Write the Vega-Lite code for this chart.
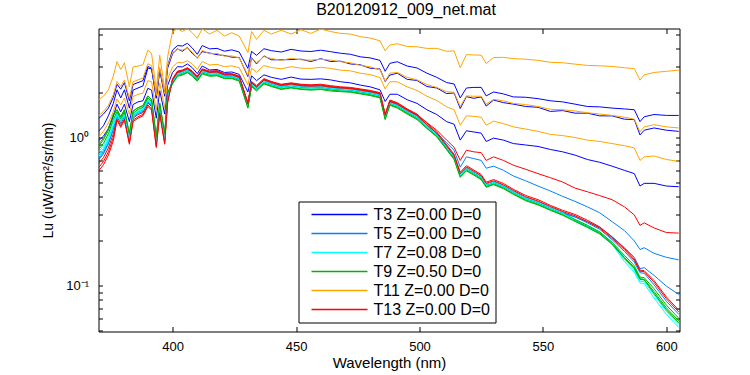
{
  "$schema": "https://vega.github.io/schema/vega-lite/v6.json",
  "width": 581,
  "height": 303,
  "autosize": {"type": "none"},
  "padding": {"left": 98.5, "top": 28.5, "right": 70.5, "bottom": 43.5},
  "background": "white",
  "title": {"text": "B20120912_009_net.mat", "fontSize": 16, "font": "Liberation Sans", "fontWeight": "normal", "color": "black", "offset": 10, "frame": "group", "dx": 17},
  "datasets": {
    "series": [
      {"s": "a", "t": "T3 Z=0.00 D=0"}, {"s": "b", "t": "T5 Z=0.00 D=0"}, {"s": "c", "t": "T7 Z=0.08 D=0"},
      {"s": "d", "t": "T9 Z=0.50 D=0"}, {"s": "e", "t": "T11 Z=0.00 D=0"}, {"s": "f", "t": "T13 Z=0.00 D=0"},
      {"s": "g", "t": "T3 Z=0.00 D=0"}, {"s": "h", "t": "T5 Z=0.00 D=0"}, {"s": "i", "t": "T7 Z=0.08 D=0"},
      {"s": "j", "t": "T9 Z=0.50 D=0"}, {"s": "k", "t": "T11 Z=0.00 D=0"}, {"s": "l", "t": "T13 Z=0.00 D=0"},
      {"s": "m", "t": "T3 Z=0.00 D=0"}, {"s": "n", "t": "T5 Z=0.00 D=0"}, {"s": "o", "t": "T7 Z=0.08 D=0"},
      {"s": "p", "t": "T9 Z=0.50 D=0"}, {"s": "q", "t": "T11 Z=0.00 D=0"}, {"s": "r", "t": "T13 Z=0.00 D=0"}
    ],
    "spec": [
      {"w":370,"a":1.1,"b":0.741,"c":0.796,"d":0.874,"e":1.8,"f":0.663,"g":1.34,"h":0.702,"i":0.764,"j":0.827,"k":1.4,"l":0.593,"m":0.95,"n":0.718,"o":0.741,"p":0.897,"q":1.0,"r":0.624},
      {"w":372,"a":1.2,"b":0.817,"c":0.877,"d":0.963,"e":1.9,"f":0.731,"g":1.44,"h":0.774,"i":0.843,"j":0.912,"k":1.5,"l":0.654,"m":1.02,"n":0.791,"o":0.817,"p":0.989,"q":1.1,"r":0.688},
      {"w":374,"a":1.4,"b":0.95,"c":1.02,"d":1.12,"e":2.1,"f":0.85,"g":1.58,"h":0.9,"i":0.98,"j":1.06,"k":1.65,"l":0.76,"m":1.15,"n":0.92,"o":0.95,"p":1.15,"q":1.25,"r":0.8},
      {"w":376,"a":1.7,"b":1.19,"c":1.28,"d":1.4,"e":2.6,"f":1.06,"g":1.87,"h":1.13,"i":1.23,"j":1.33,"k":1.95,"l":0.95,"m":1.4,"n":1.15,"o":1.19,"p":1.44,"q":1.5,"r":1.0},
      {"w":377.5,"a":2.1,"b":1.44,"c":1.48,"d":1.54,"e":3.26,"f":1.38,"g":2.29,"h":1.41,"i":1.45,"j":1.49,"k":2.39,"l":1.31,"m":1.68,"n":1.41,"o":1.42,"p":1.54,"q":1.82,"r":1.33},
      {"w":379,"a":1.85,"b":1.29,"c":1.33,"d":1.38,"e":2.88,"f":1.24,"g":2.12,"h":1.26,"i":1.3,"j":1.34,"k":2.21,"l":1.17,"m":1.49,"n":1.26,"o":1.27,"p":1.38,"q":1.66,"r":1.2},
      {"w":380.5,"a":2.1,"b":1.44,"c":1.48,"d":1.54,"e":3.2,"f":1.38,"g":2.35,"h":1.41,"i":1.45,"j":1.49,"k":2.45,"l":1.31,"m":1.68,"n":1.41,"o":1.42,"p":1.54,"q":1.85,"r":1.33},
      {"w":382.5,"a":1.58,"b":0.99,"c":1.02,"d":1.06,"e":2.2,"f":0.95,"g":1.77,"h":0.97,"i":1.0,"j":1.03,"k":1.84,"l":0.9,"m":1.28,"n":0.97,"o":0.98,"p":1.06,"q":1.43,"r":0.92},
      {"w":384,"a":2.09,"b":1.41,"c":1.45,"d":1.51,"e":3.0,"f":1.35,"g":2.28,"h":1.38,"i":1.42,"j":1.46,"k":2.38,"l":1.28,"m":1.67,"n":1.38,"o":1.39,"p":1.51,"q":1.89,"r":1.31},
      {"w":386,"a":2.16,"b":1.49,"c":1.53,"d":1.59,"e":3.04,"f":1.43,"g":2.35,"h":1.46,"i":1.5,"j":1.55,"k":2.45,"l":1.35,"m":1.74,"n":1.46,"o":1.47,"p":1.59,"q":1.96,"r":1.38},
      {"w":388,"a":2.23,"b":1.53,"c":1.58,"d":1.64,"e":3.1,"f":1.47,"g":2.42,"h":1.5,"i":1.55,"j":1.6,"k":2.52,"l":1.4,"m":1.77,"n":1.5,"o":1.52,"p":1.64,"q":1.99,"r":1.43},
      {"w":390,"a":2.94,"b":1.78,"c":1.84,"d":1.91,"e":3.89,"f":1.71,"g":3.02,"h":1.75,"i":1.8,"j":1.85,"k":3.15,"l":1.62,"m":2.15,"n":1.75,"o":1.76,"p":1.91,"q":2.42,"r":1.66},
      {"w":391.5,"a":2.91,"b":1.68,"c":1.73,"d":1.8,"e":3.69,"f":1.62,"g":2.94,"h":1.65,"i":1.7,"j":1.75,"k":3.06,"l":1.53,"m":2.09,"n":1.65,"o":1.67,"p":1.8,"q":2.38,"r":1.56},
      {"w":393.4,"a":1.86,"b":0.94,"c":0.969,"d":1.01,"e":2.1,"f":0.903,"g":1.84,"h":0.922,"i":0.95,"j":0.979,"k":1.92,"l":0.855,"m":1.35,"n":0.922,"o":0.931,"p":1.01,"q":1.53,"r":0.874},
      {"w":394.8,"a":2.88,"b":1.58,"c":1.63,"d":1.7,"e":3.6,"f":1.52,"g":2.85,"h":1.55,"i":1.6,"j":1.65,"k":2.97,"l":1.44,"m":2.07,"n":1.55,"o":1.57,"p":1.7,"q":2.34,"r":1.47},
      {"w":396.8,"a":1.98,"b":0.99,"c":1.02,"d":1.06,"e":2.09,"f":0.95,"g":1.9,"h":0.97,"i":1.0,"j":1.03,"k":1.98,"l":0.9,"m":1.44,"n":0.97,"o":0.98,"p":1.06,"q":1.59,"r":0.92},
      {"w":398,"a":3.06,"b":1.88,"c":1.94,"d":2.01,"e":3.51,"f":1.81,"g":2.94,"h":1.84,"i":1.9,"j":1.96,"k":3.06,"l":1.71,"m":2.25,"n":1.84,"o":1.86,"p":2.01,"q":2.48,"r":1.75},
      {"w":400,"a":3.9,"b":2.45,"c":2.42,"d":2.38,"e":5.2,"f":2.47,"g":3.68,"h":2.4,"i":2.35,"j":2.33,"k":3.75,"l":2.5,"m":2.75,"n":2.4,"o":2.4,"p":2.3,"q":3.0,"r":2.45},
      {"w":402,"a":4.18,"b":2.75,"c":2.73,"d":2.67,"e":5.42,"f":2.78,"g":3.97,"h":2.7,"i":2.65,"j":2.62,"k":3.93,"l":2.81,"m":3.01,"n":2.7,"o":2.7,"p":2.59,"q":3.21,"r":2.75},
      {"w":404,"a":4.15,"b":2.81,"c":2.78,"d":2.72,"e":5.2,"f":2.83,"g":3.82,"h":2.75,"i":2.7,"j":2.67,"k":3.9,"l":2.86,"m":3.0,"n":2.75,"o":2.75,"p":2.64,"q":3.2,"r":2.81},
      {"w":406,"a":4.33,"b":2.91,"c":2.88,"d":2.82,"e":5.45,"f":2.94,"g":4.06,"h":2.85,"i":2.79,"j":2.76,"k":4.02,"l":2.96,"m":3.14,"n":2.85,"o":2.85,"p":2.74,"q":3.3,"r":2.91},
      {"w":408,"a":4.02,"b":2.75,"c":2.73,"d":2.67,"e":5.1,"f":2.78,"g":3.69,"h":2.7,"i":2.65,"j":2.62,"k":3.77,"l":2.81,"m":2.96,"n":2.7,"o":2.7,"p":2.59,"q":3.14,"r":2.75},
      {"w":410,"a":3.65,"b":2.55,"c":2.53,"d":2.48,"e":4.68,"f":2.58,"g":3.45,"h":2.5,"i":2.45,"j":2.43,"k":3.42,"l":2.6,"m":2.7,"n":2.5,"o":2.5,"p":2.4,"q":2.88,"r":2.55},
      {"w":412,"a":4.18,"b":2.86,"c":2.83,"d":2.77,"e":5.42,"f":2.88,"g":3.8,"h":2.8,"i":2.74,"j":2.72,"k":3.88,"l":2.91,"m":3.04,"n":2.8,"o":2.8,"p":2.69,"q":3.26,"r":2.86},
      {"w":415,"a":3.97,"b":2.75,"c":2.73,"d":2.67,"e":5.0,"f":2.78,"g":3.72,"h":2.7,"i":2.65,"j":2.62,"k":3.68,"l":2.81,"m":2.86,"n":2.7,"o":2.7,"p":2.59,"q":3.09,"r":2.75},
      {"w":418,"a":4.0,"b":2.77,"c":2.75,"d":2.69,"e":5.3,"f":2.8,"g":3.63,"h":2.72,"i":2.67,"j":2.64,"k":3.7,"l":2.83,"m":2.88,"n":2.72,"o":2.72,"p":2.61,"q":3.12,"r":2.77},
      {"w":421,"a":3.83,"b":2.65,"c":2.63,"d":2.57,"e":4.85,"f":2.68,"g":3.58,"h":2.6,"i":2.55,"j":2.52,"k":3.54,"l":2.7,"m":2.75,"n":2.6,"o":2.6,"p":2.5,"q":3.01,"r":2.65},
      {"w":424,"a":3.91,"b":2.65,"c":2.63,"d":2.57,"e":5.1,"f":2.68,"g":3.49,"h":2.6,"i":2.55,"j":2.52,"k":3.56,"l":2.7,"m":2.77,"n":2.6,"o":2.6,"p":2.5,"q":3.05,"r":2.65},
      {"w":427,"a":3.78,"b":2.55,"c":2.53,"d":2.48,"e":4.85,"f":2.58,"g":3.47,"h":2.5,"i":2.45,"j":2.43,"k":3.44,"l":2.6,"m":2.67,"n":2.5,"o":2.5,"p":2.4,"q":2.96,"r":2.55},
      {"w":430.5,"a":2.93,"b":1.68,"c":1.67,"d":1.63,"e":3.75,"f":1.7,"g":2.58,"h":1.65,"i":1.62,"j":1.6,"k":2.63,"l":1.72,"m":2.03,"n":1.65,"o":1.65,"p":1.58,"q":2.27,"r":1.68},
      {"w":432,"a":3.82,"b":2.35,"c":2.32,"d":2.28,"e":5.2,"f":2.37,"g":3.46,"h":2.3,"i":2.25,"j":2.23,"k":3.43,"l":2.39,"m":2.61,"n":2.3,"o":2.3,"p":2.21,"q":2.94,"r":2.35},
      {"w":434,"a":3.59,"b":2.19,"c":2.17,"d":2.13,"e":4.6,"f":2.21,"g":3.14,"h":2.15,"i":2.11,"j":2.09,"k":3.2,"l":2.24,"m":2.42,"n":2.15,"o":2.15,"p":2.06,"q":2.76,"r":2.19},
      {"w":437,"a":3.98,"b":2.45,"c":2.42,"d":2.38,"e":5.3,"f":2.47,"g":3.56,"h":2.4,"i":2.35,"j":2.33,"k":3.52,"l":2.5,"m":2.65,"n":2.4,"o":2.4,"p":2.3,"q":3.06,"r":2.45},
      {"w":440,"a":3.86,"b":2.35,"c":2.32,"d":2.28,"e":5.0,"f":2.37,"g":3.35,"h":2.3,"i":2.25,"j":2.23,"k":3.42,"l":2.39,"m":2.55,"n":2.3,"o":2.3,"p":2.21,"q":2.97,"r":2.35},
      {"w":444,"a":3.78,"b":2.24,"c":2.22,"d":2.18,"e":5.3,"f":2.27,"g":3.35,"h":2.2,"i":2.16,"j":2.13,"k":3.32,"l":2.29,"m":2.47,"n":2.2,"o":2.2,"p":2.11,"q":2.91,"r":2.24},
      {"w":448,"a":3.94,"b":2.3,"c":2.27,"d":2.23,"e":5.0,"f":2.32,"g":3.36,"h":2.25,"i":2.21,"j":2.18,"k":3.43,"l":2.34,"m":2.56,"n":2.25,"o":2.25,"p":2.16,"q":3.01,"r":2.3},
      {"w":452,"a":3.84,"b":2.24,"c":2.22,"d":2.18,"e":5.35,"f":2.27,"g":3.38,"h":2.2,"i":2.16,"j":2.13,"k":3.35,"l":2.29,"m":2.48,"n":2.2,"o":2.2,"p":2.11,"q":2.94,"r":2.24},
      {"w":456,"a":3.81,"b":2.22,"c":2.2,"d":2.16,"e":5.05,"f":2.25,"g":3.26,"h":2.18,"i":2.14,"j":2.11,"k":3.33,"l":2.27,"m":2.47,"n":2.18,"o":2.18,"p":2.09,"q":2.93,"r":2.22},
      {"w":460,"a":3.89,"b":2.24,"c":2.22,"d":2.18,"e":5.4,"f":2.27,"g":3.41,"h":2.2,"i":2.16,"j":2.13,"k":3.38,"l":2.29,"m":2.49,"n":2.2,"o":2.2,"p":2.11,"q":2.98,"r":2.24},
      {"w":464,"a":3.8,"b":2.19,"c":2.17,"d":2.13,"e":5.2,"f":2.21,"g":3.26,"h":2.15,"i":2.11,"j":2.09,"k":3.33,"l":2.24,"m":2.45,"n":2.15,"o":2.15,"p":2.06,"q":2.93,"r":2.19},
      {"w":468,"a":3.71,"b":2.16,"c":2.14,"d":2.1,"e":5.05,"f":2.18,"g":3.28,"h":2.12,"i":2.08,"j":2.06,"k":3.25,"l":2.2,"m":2.38,"n":2.12,"o":2.12,"p":2.04,"q":2.85,"r":2.16},
      {"w":472,"a":3.65,"b":2.14,"c":2.12,"d":2.08,"e":5.0,"f":2.16,"g":3.14,"h":2.1,"i":2.06,"j":2.04,"k":3.2,"l":2.18,"m":2.34,"n":2.1,"o":2.1,"p":2.02,"q":2.82,"r":2.14},
      {"w":476,"a":3.51,"b":2.09,"c":2.07,"d":2.03,"e":4.8,"f":2.11,"g":3.1,"h":2.05,"i":2.01,"j":1.99,"k":3.07,"l":2.13,"m":2.26,"n":2.05,"o":2.05,"p":1.97,"q":2.72,"r":2.09},
      {"w":480,"a":3.45,"b":2.04,"c":2.02,"d":1.98,"e":4.7,"f":2.06,"g":2.94,"h":2.0,"i":1.96,"j":1.94,"k":3.0,"l":2.08,"m":2.2,"n":2.0,"o":2.0,"p":1.92,"q":2.66,"r":2.04},
      {"w":484,"a":3.32,"b":1.97,"c":1.95,"d":1.91,"e":4.5,"f":1.99,"g":2.9,"h":1.93,"i":1.89,"j":1.87,"k":2.87,"l":2.01,"m":2.1,"n":1.93,"o":1.93,"p":1.85,"q":2.54,"r":1.97},
      {"w":486.1,"a":2.8,"b":1.41,"c":1.39,"d":1.37,"e":3.85,"f":1.42,"g":2.39,"h":1.38,"i":1.35,"j":1.34,"k":2.41,"l":1.44,"m":1.75,"n":1.38,"o":1.38,"p":1.32,"q":2.13,"r":1.41},
      {"w":488,"a":3.17,"b":1.75,"c":1.74,"d":1.7,"e":4.22,"f":1.77,"g":2.64,"h":1.72,"i":1.69,"j":1.67,"k":2.72,"l":1.79,"m":1.96,"n":1.72,"o":1.72,"p":1.65,"q":2.38,"r":1.75},
      {"w":491,"a":3.25,"b":1.68,"c":1.67,"d":1.63,"e":4.3,"f":1.7,"g":2.72,"h":1.65,"i":1.62,"j":1.6,"k":2.75,"l":1.72,"m":1.96,"n":1.65,"o":1.65,"p":1.58,"q":2.38,"r":1.68},
      {"w":495,"a":3.04,"b":1.53,"c":1.52,"d":1.49,"e":4.12,"f":1.55,"g":2.47,"h":1.5,"i":1.47,"j":1.46,"k":2.55,"l":1.56,"m":1.8,"n":1.5,"o":1.5,"p":1.44,"q":2.2,"r":1.53},
      {"w":499,"a":2.95,"b":1.41,"c":1.39,"d":1.37,"e":4.1,"f":1.42,"g":2.43,"h":1.38,"i":1.35,"j":1.34,"k":2.45,"l":1.44,"m":1.7,"n":1.38,"o":1.38,"p":1.32,"q":2.08,"r":1.41},
      {"w":503,"a":2.72,"b":1.22,"c":1.21,"d":1.19,"e":4.0,"f":1.26,"g":2.21,"h":1.2,"i":1.18,"j":1.16,"k":2.28,"l":1.25,"m":1.54,"n":1.2,"o":1.2,"p":1.15,"q":1.9,"r":1.22},
      {"w":507,"a":2.55,"b":1.07,"c":1.06,"d":1.04,"e":4.0,"f":1.12,"g":2.16,"h":1.05,"i":1.03,"j":1.02,"k":2.18,"l":1.09,"m":1.43,"n":1.05,"o":1.05,"p":1.01,"q":1.78,"r":1.07},
      {"w":511,"a":2.35,"b":0.92,"c":0.869,"d":0.851,"e":3.82,"f":0.96,"g":1.98,"h":0.86,"i":0.843,"j":0.834,"k":2.04,"l":0.894,"m":1.28,"n":0.86,"o":0.86,"p":0.826,"q":1.61,"r":0.877},
      {"w":514,"a":2.3,"b":0.82,"c":0.747,"d":0.733,"e":3.85,"f":0.86,"g":2.0,"h":0.74,"i":0.725,"j":0.718,"k":2.02,"l":0.77,"m":1.23,"n":0.74,"o":0.74,"p":0.71,"q":1.54,"r":0.755},
      {"w":516.5,"a":1.85,"b":0.63,"c":0.566,"d":0.554,"e":2.96,"f":0.7,"g":1.57,"h":0.56,"i":0.549,"j":0.543,"k":1.62,"l":0.582,"m":0.96,"n":0.56,"o":0.56,"p":0.538,"q":1.21,"r":0.571},
      {"w":519,"a":2.16,"b":0.74,"c":0.626,"d":0.614,"e":3.63,"f":0.82,"g":1.89,"h":0.62,"i":0.608,"j":0.601,"k":1.91,"l":0.645,"m":1.11,"n":0.62,"o":0.62,"p":0.595,"q":1.4,"r":0.632},
      {"w":522,"a":2.18,"b":0.72,"c":0.586,"d":0.574,"e":3.61,"f":0.8,"g":1.84,"h":0.58,"i":0.568,"j":0.563,"k":1.9,"l":0.603,"m":1.09,"n":0.58,"o":0.58,"p":0.557,"q":1.39,"r":0.592},
      {"w":525,"a":2.18,"b":0.7,"c":0.545,"d":0.535,"e":3.6,"f":0.79,"g":1.88,"h":0.54,"i":0.529,"j":0.524,"k":1.9,"l":0.562,"m":1.07,"n":0.54,"o":0.54,"p":0.518,"q":1.37,"r":0.551},
      {"w":527,"a":1.91,"b":0.62,"c":0.485,"d":0.475,"e":3.16,"f":0.7,"g":1.63,"h":0.48,"i":0.47,"j":0.466,"k":1.68,"l":0.499,"m":0.94,"n":0.48,"o":0.48,"p":0.461,"q":1.21,"r":0.49},
      {"w":530,"a":2.03,"b":0.64,"c":0.505,"d":0.495,"e":3.47,"f":0.74,"g":1.79,"h":0.5,"i":0.49,"j":0.485,"k":1.81,"l":0.52,"m":0.99,"n":0.5,"o":0.5,"p":0.48,"q":1.29,"r":0.51},
      {"w":534,"a":1.97,"b":0.6,"c":0.475,"d":0.465,"e":3.48,"f":0.7,"g":1.72,"h":0.47,"i":0.461,"j":0.456,"k":1.77,"l":0.489,"m":0.96,"n":0.47,"o":0.47,"p":0.451,"q":1.24,"r":0.479},
      {"w":538,"a":1.88,"b":0.55,"c":0.434,"d":0.426,"e":3.41,"f":0.65,"g":1.68,"h":0.43,"i":0.421,"j":0.417,"k":1.7,"l":0.447,"m":0.91,"n":0.43,"o":0.43,"p":0.413,"q":1.18,"r":0.439},
      {"w":543,"a":1.87,"b":0.51,"c":0.394,"d":0.386,"e":3.38,"f":0.61,"g":1.62,"h":0.39,"i":0.382,"j":0.378,"k":1.67,"l":0.406,"m":0.89,"n":0.39,"o":0.39,"p":0.374,"q":1.14,"r":0.398},
      {"w":548,"a":1.83,"b":0.47,"c":0.369,"d":0.361,"e":3.32,"f":0.57,"g":1.6,"h":0.365,"i":0.358,"j":0.354,"k":1.62,"l":0.38,"m":0.87,"n":0.365,"o":0.365,"p":0.35,"q":1.1,"r":0.372},
      {"w":553,"a":1.77,"b":0.435,"c":0.338,"d":0.332,"e":3.22,"f":0.535,"g":1.5,"h":0.335,"i":0.328,"j":0.325,"k":1.55,"l":0.348,"m":0.83,"n":0.335,"o":0.335,"p":0.322,"q":1.05,"r":0.342},
      {"w":558,"a":1.74,"b":0.4,"c":0.313,"d":0.307,"e":3.2,"f":0.5,"g":1.52,"h":0.31,"i":0.304,"j":0.301,"k":1.54,"l":0.322,"m":0.8,"n":0.31,"o":0.31,"p":0.298,"q":1.03,"r":0.316},
      {"w":563,"a":1.68,"b":0.37,"c":0.279,"d":0.279,"e":3.13,"f":0.455,"g":1.46,"h":0.29,"i":0.274,"j":0.274,"k":1.51,"l":0.302,"m":0.76,"n":0.291,"o":0.271,"p":0.271,"q":1.0,"r":0.296},
      {"w":568,"a":1.62,"b":0.34,"c":0.255,"d":0.255,"e":3.07,"f":0.43,"g":1.46,"h":0.27,"i":0.25,"j":0.25,"k":1.47,"l":0.276,"m":0.71,"n":0.265,"o":0.247,"p":0.247,"q":0.96,"r":0.27},
      {"w":573,"a":1.61,"b":0.31,"c":0.23,"d":0.23,"e":3.05,"f":0.405,"g":1.4,"h":0.247,"i":0.226,"j":0.226,"k":1.44,"l":0.249,"m":0.68,"n":0.24,"o":0.223,"p":0.223,"q":0.94,"r":0.244},
      {"w":578,"a":1.58,"b":0.27,"c":0.196,"d":0.196,"e":3.02,"f":0.38,"g":1.4,"h":0.214,"i":0.192,"j":0.192,"k":1.41,"l":0.212,"m":0.64,"n":0.204,"o":0.19,"p":0.19,"q":0.91,"r":0.208},
      {"w":583,"a":1.56,"b":0.235,"c":0.155,"d":0.16,"e":2.96,"f":0.34,"g":1.33,"h":0.18,"i":0.15,"j":0.155,"k":1.37,"l":0.178,"m":0.6,"n":0.17,"o":0.145,"p":0.153,"q":0.88,"r":0.175},
      {"w":587,"a":1.54,"b":0.2,"c":0.132,"d":0.136,"e":2.92,"f":0.3,"g":1.32,"h":0.155,"i":0.127,"j":0.132,"k":1.33,"l":0.151,"m":0.57,"n":0.144,"o":0.123,"p":0.13,"q":0.85,"r":0.148},
      {"w":589.3,"a":1.28,"b":0.175,"c":0.111,"d":0.114,"e":2.44,"f":0.255,"g":1.04,"h":0.13,"i":0.107,"j":0.111,"k":1.09,"l":0.127,"m":0.47,"n":0.122,"o":0.104,"p":0.11,"q":0.7,"r":0.125},
      {"w":591,"a":1.38,"b":0.18,"c":0.11,"d":0.113,"e":2.65,"f":0.265,"g":1.12,"h":0.132,"i":0.106,"j":0.11,"k":1.18,"l":0.126,"m":0.49,"n":0.121,"o":0.103,"p":0.109,"q":0.74,"r":0.124},
      {"w":595,"a":1.43,"b":0.165,"c":0.0892,"d":0.0951,"e":2.75,"f":0.245,"g":1.16,"h":0.117,"i":0.0862,"j":0.0911,"k":1.22,"l":0.108,"m":0.49,"n":0.101,"o":0.0823,"p":0.0882,"q":0.75,"r":0.105},
      {"w":600,"a":1.41,"b":0.155,"c":0.0692,"d":0.0737,"e":2.8,"f":0.228,"g":1.12,"h":0.099,"i":0.0669,"j":0.0707,"k":1.18,"l":0.0836,"m":0.47,"n":0.0783,"o":0.0638,"p":0.0684,"q":0.71,"r":0.0813},
      {"w":605,"a":1.41,"b":0.149,"c":0.0564,"d":0.0601,"e":2.85,"f":0.226,"g":1.1,"h":0.087,"i":0.0546,"j":0.0577,"k":1.16,"l":0.0682,"m":0.465,"n":0.0639,"o":0.0521,"p":0.0558,"q":0.69,"r":0.0663}
    ]
  },
  "layer": [
    {
      "data": {"name": "spec"},
      "transform": [
        {"fold": ["a","b","c","d","e","f","g","h","i","j","k","l","m","n","o","p","q","r"], "as": ["s", "v"]},
        {"lookup": "s", "from": {"data": {"name": "series"}, "key": "s", "fields": ["t"]}}
      ],
      "mark": {"type": "line", "strokeWidth": 1, "clip": true},
      "encoding": {
        "x": {
          "field": "w", "type": "quantitative",
          "scale": {"domain": [370, 605.3], "nice": false, "zero": false},
          "axis": {"orient": "bottom", "values": [400, 450, 500, 550, 600], "tickSize": -5, "labelPadding": 14, "labelFlush": false, "title": "Wavelength (nm)", "titlePadding": 2}
        },
        "y": {
          "field": "v", "type": "quantitative",
          "scale": {"type": "log", "domain": [0.0489, 5.45], "nice": false},
          "axis": {"orient": "left", "values": [0.05, 0.06, 0.07, 0.08, 0.09, 0.1, 0.2, 0.3, 0.4, 0.5, 0.6, 0.7, 0.8, 0.9, 1, 2, 3, 4, 5], "labelExpr": "datum.value == 1 ? '10⁰' : (datum.value == 0.1 ? '10⁻¹' : '')", "tickSize": -4, "labelPadding": 14, "labelOverlap": false, "title": "Lu (uW/cm²/sr/nm)", "titleFontSize": 14, "titlePadding": 10}
        },
        "color": {
          "field": "t", "type": "nominal",
          "scale": {
            "domain": ["T3 Z=0.00 D=0", "T5 Z=0.00 D=0", "T7 Z=0.08 D=0", "T9 Z=0.50 D=0", "T11 Z=0.00 D=0", "T13 Z=0.00 D=0"],
            "range": ["#0000ff", "#0080ff", "#00ffff", "#00b400", "#ffa500", "#ff0000"]
          },
          "legend": {"title": null, "orient": "none", "legendX": 200, "legendY": 173, "symbolType": "M-5.6,0H5.6", "symbolSize": 100, "symbolOffset": 28, "symbolStrokeWidth": 1.3, "labelFontSize": 16, "labelFont": "Liberation Sans", "labelColor": "black", "labelLimit": 300, "labelOffset": 26, "strokeColor": "black", "fillColor": "white", "padding": 5, "rowPadding": 3}
        },
        "detail": {"field": "s"}
      }
    },
    {
      "data": {"values": [{"w": 400, "v": 1}]},
      "mark": {"type": "point", "opacity": 0},
      "encoding": {
        "x": {
          "field": "w", "type": "quantitative",
          "scale": {"domain": [370, 605.3], "nice": false, "zero": false},
          "axis": {"orient": "top", "values": [400, 450, 500, 550, 600], "tickSize": -5, "labels": false, "title": null}
        },
        "y": {
          "field": "v", "type": "quantitative",
          "scale": {"type": "log", "domain": [0.0489, 5.45], "nice": false},
          "axis": {"orient": "right", "values": [0.05, 0.06, 0.07, 0.08, 0.09, 0.1, 0.2, 0.3, 0.4, 0.5, 0.6, 0.7, 0.8, 0.9, 1, 2, 3, 4, 5], "tickSize": -4, "labels": false, "title": null}
        }
      }
    }
  ],
  "resolve": {"axis": {"x": "independent", "y": "independent"}},
  "config": {
    "view": {"stroke": null},
    "axis": {
      "grid": false, "domainColor": "black", "domainWidth": 1, "tickColor": "black", "tickWidth": 1,
      "labelFont": "Liberation Sans", "labelFontSize": 13, "labelColor": "black",
      "titleFont": "Liberation Sans", "titleFontSize": 15, "titleFontWeight": "normal", "titleColor": "black"
    }
  }
}
